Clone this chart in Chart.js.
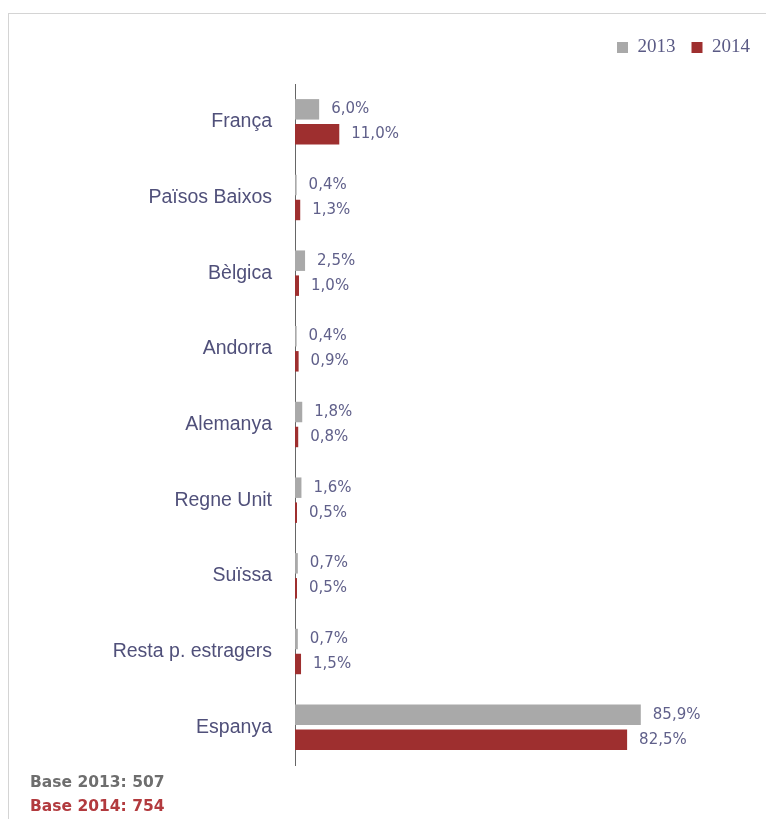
<!DOCTYPE html>
<html>
<head>
<meta charset="utf-8">
<script src="https://cdn.jsdelivr.net/npm/chart.js@4"></script>
<style>
  html, body { margin: 0; padding: 0; background: #fff; }
  #wrap { position: relative; width: 766px; height: 819px; overflow: hidden; }
  #frame { position: absolute; left: 8px; top: 13px; width: 800px; height: 900px; border: 1px solid #d4d4d4; }
  canvas { position: absolute; left: 0; top: 0; }
  .base { position: absolute; left: 30px; font: bold 15.5px "DejaVu Sans", Verdana, sans-serif; }
</style>
</head>
<body>
<div id="wrap">
  <div id="frame"></div>
  <canvas id="paisosChart" width="766" height="819"></canvas>
  <div class="base" style="top:773px;color:#6e6e6e">Base 2013: 507</div>
  <div class="base" style="top:797px;color:#b23a3e">Base 2014: 754</div>
</div>
<script>
const categories = ["França", "Països Baixos", "Bèlgica", "Andorra", "Alemanya", "Regne Unit", "Suïssa", "Resta p. estragers", "Espanya"];
const values2013 = [6.0, 0.4, 2.5, 0.4, 1.8, 1.6, 0.7, 0.7, 85.9];
const values2014 = [11.0, 1.3, 1.0, 0.9, 0.8, 0.5, 0.5, 1.5, 82.5];
const seriesLabels = ["2013", "2014"];

const textColor = "#50507a";

// etiquetes de valor a la dreta de cada barra
const valueLabels = {
    id: "valueLabels",
    afterDatasetsDraw(chart) {
        const ctx = chart.ctx;
        ctx.save();
        ctx.font = "15px 'DejaVu Sans', Verdana, sans-serif";
        ctx.fillStyle = "#60608a";
        ctx.textBaseline = "middle";
        ctx.textAlign = "left";
        chart.data.datasets.forEach((ds, i) => {
            chart.getDatasetMeta(i).data.forEach((bar, j) => {
                const txt = ds.data[j].toFixed(1).replace(".", ",") + "%";
                ctx.fillText(txt, bar.x + 12, bar.y);
            });
        });
        ctx.restore();
    }
};

const canvas = document.getElementById("paisosChart");
new Chart(canvas, {
    type: "bar",
    data: {
        labels: categories,
        datasets: [{
            label: seriesLabels[0],
            data: values2013,
            backgroundColor: "#a9a9a9",
            categoryPercentage: 0.66,
            barPercentage: 0.82
        }, {
            label: seriesLabels[1],
            data: values2014,
            backgroundColor: "#9e2f2f",
            categoryPercentage: 0.66,
            barPercentage: 0.82
        }]
    },
    options: {
        indexAxis: "y",
        responsive: false,
        animation: false,
        layout: { padding: { left: 0, right: 0, top: 22, bottom: 54 } },
        plugins: {
            legend: {
                display: true,
                position: "top",
                align: "end",
                labels: {
                    boxWidth: 11,
                    boxHeight: 11,
                    padding: 16,
                    color: "#5a5a85",
                    font: { family: "'Liberation Sans Narrow', 'Liberation Serif', serif", size: 19 }
                }
            },
            tooltip: { enabled: false }
        },
        scales: {
            x: {
                position: "top",
                min: 0,
                max: 117,
                ticks: { display: false },
                grid: { display: false },
                border: { display: false },
                afterFit(scale) { scale.height = 17; }
            },
            y: {
                grid: { display: false },
                border: { display: true, color: "#666", width: 1 },
                ticks: {
                    color: textColor,
                    padding: 15,
                    font: { family: "'Liberation Sans', Arial, sans-serif", size: 19.5 }
                },
                afterFit(scale) { scale.width = 295; }
            }
        }
    },
    plugins: [valueLabels]
});
</script>
</body>
</html>
